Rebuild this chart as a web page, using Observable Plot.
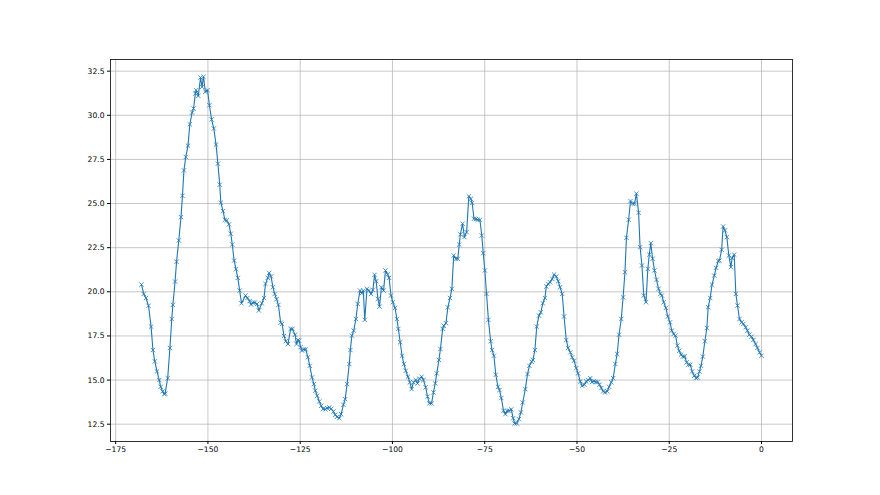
<!DOCTYPE html>
<html>
<head>
<meta charset="utf-8">
<script src="https://cdn.jsdelivr.net/npm/d3@7"></script>
<script src="https://cdn.jsdelivr.net/npm/@observablehq/plot@0.6"></script>
<style>
  html, body { margin: 0; padding: 0; background: #fff; }
  #chart svg { display: block; }
</style>
</head>
<body>
<div id="chart"></div>
<script>
const xs = [
  -168.0,-167.4,-166.8,-166.1,-165.4,-164.9,-164.4,-163.8,-163.2,-162.8,-162.3,-161.8,-161.6,-160.9,-160.3,-159.8,-159.5,-158.9,-158.5,-157.9,
  -157.3,-156.9,-156.5,-156.0,-155.4,-154.9,-154.3,-153.9,-153.4,-153.2,-152.6,-152.0,-151.6,-151.2,-150.7,-150.1,-149.6,-149.0,-148.4,
  -147.8,-147.3,-146.8,-146.5,-145.9,-145.4,-144.9,-144.3,-143.8,-143.4,-142.9,-142.4,-141.9,-141.4,-140.9,-139.8,-139.3,-138.7,-138.3,
  -137.8,-137.3,-136.7,-136.2,-135.4,-134.8,-134.4,-133.8,-133.4,-132.9,-132.4,-131.9,-131.4,-130.9,-130.3,-129.9,-129.4,-128.9,-128.3,
  -127.6,-127.1,-126.4,-126.0,-125.6,-125.3,-124.9,-124.5,-124.0,-123.5,-122.9,-122.4,-121.8,-121.3,-120.9,-120.4,-119.8,-119.3,-118.8,
  -118.2,-117.7,-117.1,-116.6,-116.0,-115.5,-115.0,-114.4,-113.9,-113.3,-112.8,-112.3,-111.7,-111.4,-111.0,-110.5,-109.9,-109.4,-108.8,
  -108.3,-107.9,-107.5,-106.9,-106.4,-105.8,-105.3,-104.85,-104.4,-103.95,-103.5,-103.0,-102.4,-101.9,-101.3,-100.9,-100.4,-99.9,-99.3,
  -98.8,-98.4,-97.9,-97.4,-96.9,-96.4,-95.8,-95.3,-94.8,-94.3,-93.7,-93.2,-92.7,-92.1,-91.6,-91.0,-90.5,-90.0,-89.4,-88.9,-88.4,-88.0,
  -87.4,-87.0,-86.4,-86.1,-85.5,-85.0,-84.4,-83.9,-83.4,-82.8,-82.3,-81.9,-81.6,-81.0,-80.5,-79.9,-79.3,-78.75,-78.4,-77.9,-77.4,-76.9,
  -76.3,-75.8,-75.4,-74.96,-74.5,-74.0,-73.4,-73.0,-72.5,-72.0,-71.4,-71.0,-70.5,-69.9,-69.4,-68.9,-68.4,-67.8,-67.3,-66.9,-66.3,-65.75,
  -65.2,-64.7,-64.0,-63.4,-62.9,-62.3,-61.95,-61.4,-60.9,-60.3,-59.8,-59.25,-58.7,-58.3,-57.8,-57.3,-56.7,-56.2,-55.6,-55.1,-54.6,-54.0,
  -53.5,-52.9,-52.4,-51.8,-51.3,-50.8,-50.2,-49.7,-49.1,-48.6,-48.0,-47.5,-46.96,-46.4,-45.9,-45.4,-44.9,-44.4,-43.9,-43.4,-42.9,-42.4,
  -41.8,-41.3,-40.7,-40.2,-39.6,-39.1,-38.6,-38.0,-37.5,-37.0,-36.6,-36.0,-35.5,-34.95,-34.4,-33.9,-33.3,-32.9,-32.4,-31.9,-31.3,-30.8,
  -30.4,-30.0,-29.5,-29.0,-28.45,-27.9,-27.4,-27.0,-26.5,-25.9,-25.4,-24.8,-24.3,-23.8,-23.3,-22.8,-22.3,-21.8,-21.3,-20.8,-20.3,-19.8,
  -19.3,-18.8,-18.2,-17.7,-17.3,-16.8,-16.4,-15.9,-15.35,-14.8,-14.45,-13.9,-13.4,-12.8,-12.3,-11.7,-11.4,-10.8,-10.4,-9.9,-9.4,-8.85,
  -8.3,-7.95,-7.4,-6.95,-6.5,-5.96,-5.4,-4.9,-4.3,-3.8,-3.3,-2.7,-2.2,-1.6,-1.1,-0.54,0
];
const ys = [
  20.41,19.88,19.65,19.21,18.03,16.70,16.06,15.49,15.00,14.62,14.36,14.20,14.24,15.11,16.82,18.46,19.26,20.58,21.70,22.91,
  24.23,25.44,26.88,27.64,28.28,29.49,30.15,30.38,31.23,31.42,31.10,32.14,31.61,32.18,31.33,31.42,30.57,29.76,29.25,
  28.34,27.26,26.07,25.05,24.57,24.08,24.04,23.82,23.29,22.68,21.77,21.28,20.79,20.07,19.35,19.79,19.65,19.47,19.28,
  19.39,19.39,19.31,18.94,19.35,19.65,20.45,20.79,21.07,20.87,20.26,19.88,19.58,19.26,18.25,18.18,17.50,17.20,17.04,
  17.90,17.90,17.57,17.04,17.27,17.23,16.86,16.67,16.74,16.74,16.29,15.81,15.15,14.77,14.40,14.11,13.79,13.54,13.36,
  13.34,13.41,13.45,13.37,13.22,13.03,12.92,12.84,13.07,13.60,13.92,14.77,15.91,16.70,17.52,17.80,18.46,19.31,20.07,
  19.92,20.07,18.41,20.17,20.07,19.88,20.11,20.96,20.60,19.60,19.16,20.26,20.07,21.21,20.98,20.79,19.79,19.41,19.09,
  18.46,17.90,17.14,16.38,15.91,15.53,15.19,14.87,14.49,14.87,15.00,14.81,15.08,15.19,15.00,14.59,14.06,13.68,13.68,14.30,14.81,15.38,
  16.14,16.76,17.90,18.08,18.22,19.12,19.65,20.17,22.06,21.87,21.87,22.68,23.25,23.86,23.10,23.38,25.41,25.27,25.03,24.14,24.12,24.08,
  24.08,23.19,22.19,21.21,19.88,18.41,17.20,16.70,16.38,15.30,14.62,14.43,13.98,13.26,13.07,13.26,13.26,13.34,12.84,12.54,12.54,12.79,
  13.17,13.73,14.49,15.34,15.81,16.04,16.14,16.70,18.03,18.65,18.84,19.35,19.65,20.30,20.45,20.54,20.73,20.98,20.87,20.60,20.26,19.88,
  18.60,17.27,16.82,16.57,16.29,16.10,15.68,15.38,14.92,14.68,14.74,14.92,15.00,15.11,14.89,14.93,14.89,14.89,14.74,14.55,14.36,14.30,
  14.36,14.62,14.87,15.11,15.91,16.48,17.57,18.46,19.69,21.11,23.06,24.08,25.14,24.99,24.99,25.56,24.48,22.53,21.49,19.79,19.41,21.30,
  22.11,22.76,21.87,21.21,20.68,20.17,19.88,19.79,19.41,19.09,18.60,18.27,17.80,17.61,17.52,16.95,16.66,16.44,16.33,16.34,16.00,15.87,
  15.87,15.49,15.25,15.11,15.15,15.49,15.81,16.33,17.20,17.95,19.13,19.65,20.41,20.92,21.36,21.74,21.77,22.38,23.70,23.48,23.10,22.06,
  21.40,21.92,22.11,19.88,19.22,18.46,18.27,18.18,17.99,17.80,17.57,17.46,17.27,17.04,16.82,16.57,16.38
];
const xTicks = [-175, -150, -125, -100, -75, -50, -25, 0];
const yTicks = [12.5, 15.0, 17.5, 20.0, 22.5, 25.0, 27.5, 30.0, 32.5];

const data = xs.map((x, i) => ({x, y: ys[i]}));
const color = "#1f77b4";

const chart = Plot.plot({
  width: 880,
  height: 495,
  marginLeft: 110,
  marginRight: 88,
  marginTop: 59,
  marginBottom: 54,
  style: {fontFamily: "DejaVu Sans", fontSize: "7.6px", color: "#000", background: "#fff"},
  x: {domain: [-176.4, 8.4]},
  y: {domain: [11.52, 33.16]},
  marks: [
    Plot.gridX(xTicks, {stroke: "#b0b0b0", strokeOpacity: 1, strokeWidth: 0.7}),
    Plot.gridY(yTicks, {stroke: "#b0b0b0", strokeOpacity: 1, strokeWidth: 0.7}),
    Plot.line(data, {x: "x", y: "y", stroke: color, strokeWidth: 1.1}),
    Plot.dot(data, {x: "x", y: "y", symbol: "times", r: 2.1, stroke: color, strokeWidth: 0.8}),
    Plot.axisX(xTicks, {tickSize: 3, tickPadding: 2, tickFormat: d => d < 0 ? "\u2212" + Math.abs(d) : String(d), label: null, stroke: "#000"}),
    Plot.axisY(yTicks, {tickSize: 3, tickPadding: 3, tickFormat: d3.format(".1f"), label: null, stroke: "#000"}),
    Plot.frame({stroke: "#000", strokeWidth: 0.8})
  ]
});
document.getElementById("chart").append(chart);
</script>
</body>
</html>
